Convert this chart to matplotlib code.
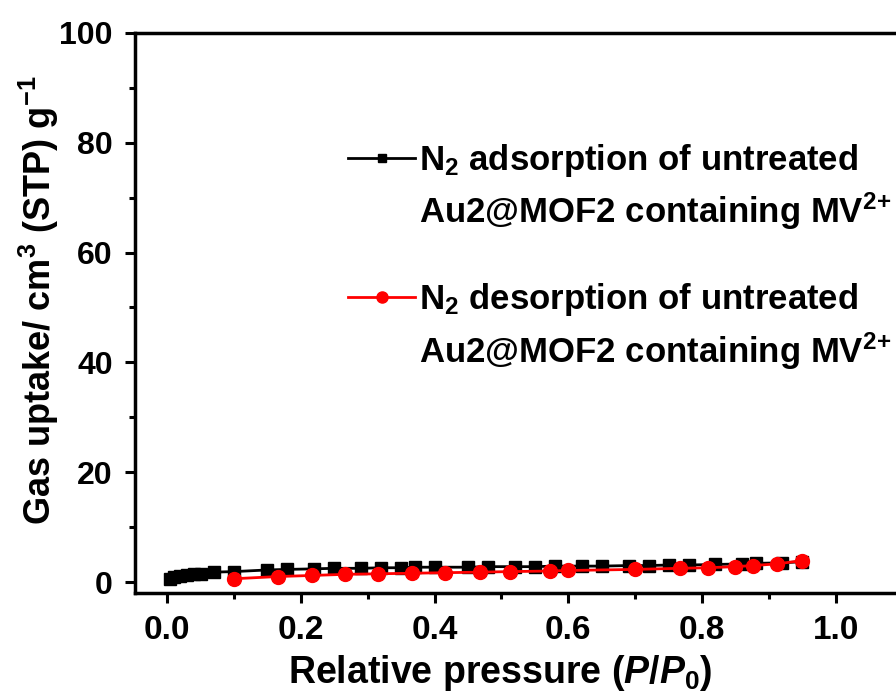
import matplotlib
matplotlib.use('Agg')
import matplotlib.pyplot as plt
from matplotlib.lines import Line2D
from matplotlib.ticker import MultipleLocator

# N2 adsorption (black squares)
ads_p = [0.005, 0.01, 0.02, 0.03, 0.04, 0.05, 0.07, 0.10, 0.15, 0.18, 0.22, 0.25,
         0.29, 0.32, 0.35, 0.37, 0.40, 0.45, 0.48, 0.52, 0.55, 0.58, 0.62, 0.65,
         0.69, 0.72, 0.75, 0.78, 0.82, 0.86, 0.88, 0.92, 0.95]
ads_v = [0.6, 0.9, 1.1, 1.3, 1.4, 1.5, 1.8, 1.9, 2.2, 2.3, 2.4, 2.5,
         2.5, 2.6, 2.6, 2.7, 2.7, 2.7, 2.8, 2.8, 2.8, 2.9, 2.9, 2.9,
         3.0, 3.0, 3.1, 3.1, 3.2, 3.3, 3.4, 3.5, 3.7]

# N2 desorption (red circles)
des_p = [0.10, 0.166, 0.217, 0.266, 0.315, 0.366, 0.416, 0.468, 0.513, 0.572,
         0.599, 0.700, 0.767, 0.809, 0.849, 0.876, 0.912, 0.949]
des_v = [0.6, 1.0, 1.2, 1.4, 1.5, 1.6, 1.7, 1.8, 1.9, 2.0,
         2.1, 2.3, 2.5, 2.6, 2.8, 3.0, 3.3, 3.9]

labels = ['N$_2$ adsorption of untreated', 'N$_2$ desorption of untreated']
label2 = 'Au2@MOF2 containing MV$^{2{+}}$'

plt.rcParams['font.family'] = 'Liberation Sans'
plt.rcParams['font.weight'] = 'bold'
plt.rcParams['mathtext.fontset'] = 'custom'
plt.rcParams['mathtext.rm'] = 'Liberation Sans:bold'
plt.rcParams['mathtext.bf'] = 'Liberation Sans:bold'
plt.rcParams['mathtext.it'] = 'Liberation Sans:italic:bold'

fs_leg = 25
fig = plt.figure(figsize=(8.96, 6.97), dpi=100)
ax = fig.add_axes([0.1507, 0.1492, 0.8493, 0.8035])

ax.plot(ads_p, ads_v, color='black', marker='s', markersize=8.5, linewidth=2)
ax.plot(des_p, des_v, color='red', marker='o', markersize=10, linewidth=2)

ax.set_xlim(-0.048, 1.09)
ax.set_ylim(-2, 100)
ax.xaxis.set_major_locator(MultipleLocator(0.2))
ax.xaxis.set_minor_locator(MultipleLocator(0.1))
ax.yaxis.set_major_locator(MultipleLocator(20))
ax.yaxis.set_minor_locator(MultipleLocator(10))
ax.tick_params(which='major', length=7, width=2.2)
ax.tick_params(which='minor', length=4.5, width=2.2)
ax.tick_params(axis='x', which='major', pad=9, labelsize=24)
ax.tick_params(axis='y', which='major', pad=9, labelsize=23)
ax.xaxis.set_major_formatter(matplotlib.ticker.FormatStrFormatter('%.1f'))

for s in ['left', 'bottom', 'top']:
    ax.spines[s].set_linewidth(2.5)
ax.spines['right'].set_visible(False)

ax.set_xlabel('Relative pressure ($\\mathit{P/P_0}$)', fontsize=27, fontweight='bold')
ax.xaxis.set_label_coords(0.48, -0.107)
ax.set_ylabel('Gas uptake/ cm$^3$ (STP) g$^{-1}$', fontsize=26, fontweight='bold')
ax.yaxis.set_label_coords(-0.097, 0.523)

blank = Line2D([], [], linestyle='none')
h1 = Line2D([], [], color='black', marker='s', markersize=6, linewidth=2)
h2 = Line2D([], [], color='red', marker='o', markersize=8, linewidth=2)

leg_kw = dict(loc='center left', frameon=False, fontsize=fs_leg,
              handlelength=1.93, handletextpad=0.1, labelspacing=0.34,
              borderpad=0, borderaxespad=0)
leg1 = ax.legend([h1, blank], [labels[0], label2],
                 bbox_to_anchor=(0.28, 0.725), **leg_kw)
ax.add_artist(leg1)
ax.legend([h2, blank], [labels[1], label2],
          bbox_to_anchor=(0.28, 0.476), **leg_kw)

fig.savefig('out.png', dpi=100)
